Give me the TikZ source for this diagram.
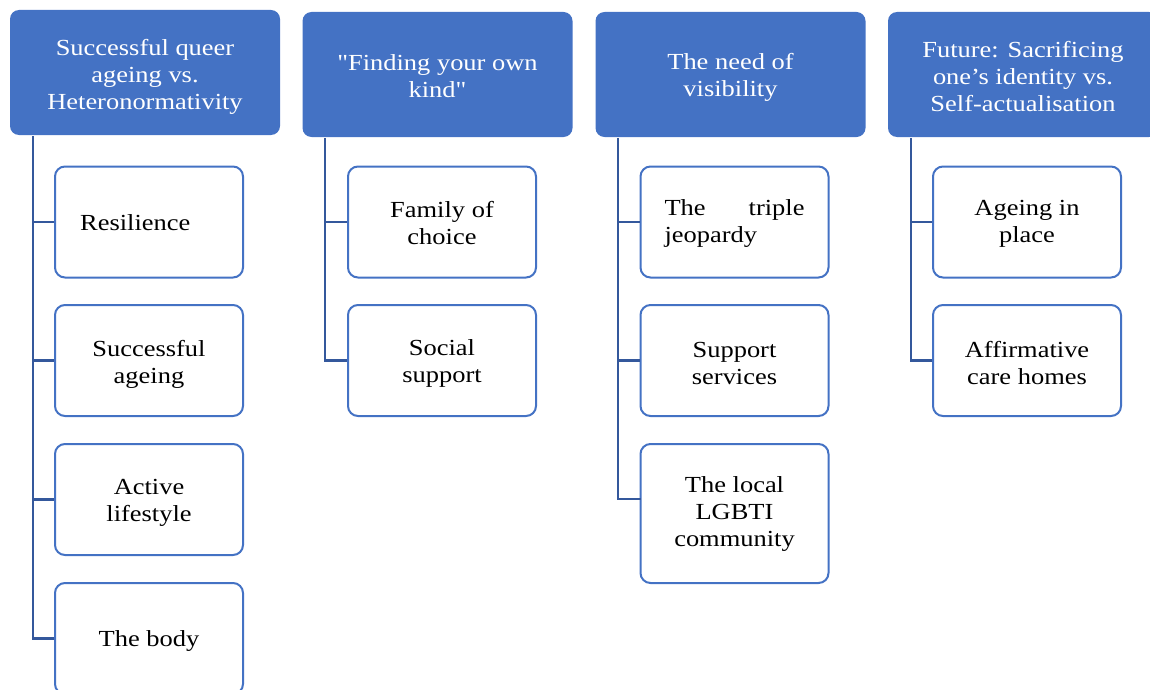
\documentclass[tikz,border=0pt]{standalone}
\usepackage{fontspec}
\setmainfont[FakeStretch=1.15,Ligatures=TeXOff]{Liberation Serif}
\definecolor{hdrblue}{RGB}{68,114,196}
\definecolor{connblue}{RGB}{52,88,156}
\begin{document}
\begin{tikzpicture}[x=1pt,y=-1pt,
  hdr/.style={draw=none,fill=hdrblue,rounded corners=9pt,minimum width=270pt,minimum height=125pt,inner sep=0pt},
  child/.style={draw=hdrblue,line width=2pt,fill=white,rounded corners=10pt,minimum width=188pt,
    minimum height=111pt,inner sep=0pt},
  htxt/.style={text=white,align=center,font=\fontsize{23pt}{27pt}\selectfont,inner sep=0pt},
  ctxt/.style={text=black,align=center,font=\fontsize{23pt}{27pt}\selectfont,inner sep=0pt},
  conn/.style={draw=connblue,line width=2.6pt}]
\useasboundingbox (0,0) rectangle (1150,690);
\clip (0,0) rectangle (1150,690);
% headers
\node[hdr] (h1) at (145,72.5) {};
\node[hdr] (h2) at (437.5,74.5) {};
\node[hdr] (h3) at (730.5,74.5) {};
\node[hdr] (h4) at (1023,74.5) {};
\node[htxt] (th1) at ([yshift=-4pt]h1.center) {Successful queer\\ageing vs.\\Heteronormativity};
\node[htxt] (th2) at ([yshift=-1.5pt]h2.center) {"Finding your own\\kind"};
\node[htxt] (th3) at ([yshift=-3pt]h3.center) {The need of\\visibility};
\node[htxt] (th4) at ([yshift=-2pt]h4.center) {Future: Sacrificing\\one’s identity vs.\\Self-actualisation};
% spine coordinates
\coordinate (s1) at (33,136);
\coordinate (s2) at (325,138);
\coordinate (s3) at (618,138);
\coordinate (s4) at (911,138);
% column 1
\node[child] (c11) at (149,222) {};
\node[child] (c12) at (149,360.5) {};
\node[child] (c13) at (149,499.5) {};
\node[child] (c14) at (149,638.5) {};
\node[ctxt,anchor=west] (t11) at ([xshift=-69pt,yshift=-1pt]c11.center) {Resilience};
\node[ctxt] (t12) at ([yshift=-3.5pt]c12.center) {Successful\\ageing};
\node[ctxt] (t13) at ([yshift=-3.5pt]c13.center) {Active\\lifestyle};
\node[ctxt] (t14) at ([yshift=-2pt]c14.center) {The body};
% column 2
\node[child] (c21) at (442,222) {};
\node[child] (c22) at (442,360.5) {};
\node[ctxt] (t21) at ([yshift=-1.5pt]c21.center) {Family of\\choice};
\node[ctxt] (t22) at ([yshift=-3pt]c22.center) {Social\\support};
% column 3
\node[child] (c31) at (734.5,222) {};
\node[child] (c32) at (734.5,360.5) {};
\node[child,minimum height=139pt] (c33) at (734.5,513.5) {};
\node[ctxt] (t31) at ([yshift=-2pt]c31.center) {\makebox[140pt][s]{The triple}\\\makebox[140pt][l]{jeopardy}};
\node[ctxt] (t32) at ([yshift=-3pt]c32.center) {Support\\services};
\node[ctxt] (t33) at ([yshift=-0.5pt]c33.center) {The local\\LGBTI\\community};
\coordinate (c33a) at (641,499);
% column 4
\node[child] (c41) at (1027,222) {};
\node[child] (c42) at (1027,360.5) {};
\node[ctxt] (t41) at ([yshift=-2pt]c41.center) {Ageing in\\place};
\node[ctxt] (t42) at ([yshift=-3pt]c42.center) {Affirmative\\care homes};
% connectors
\draw[conn] (s1) |- (c14.west);
\draw[conn] (s1 |- c11.west) -- (c11.west);
\draw[conn] (s1 |- c12.west) -- (c12.west);
\draw[conn] (s1 |- c13.west) -- (c13.west);
\draw[conn] (s2) |- (c22.west);
\draw[conn] (s2 |- c21.west) -- (c21.west);
\draw[conn] (s3) |- (c33a);
\draw[conn] (s3 |- c31.west) -- (c31.west);
\draw[conn] (s3 |- c32.west) -- (c32.west);
\draw[conn] (s4) |- (c42.west);
\draw[conn] (s4 |- c41.west) -- (c41.west);
\end{tikzpicture}
\end{document}
